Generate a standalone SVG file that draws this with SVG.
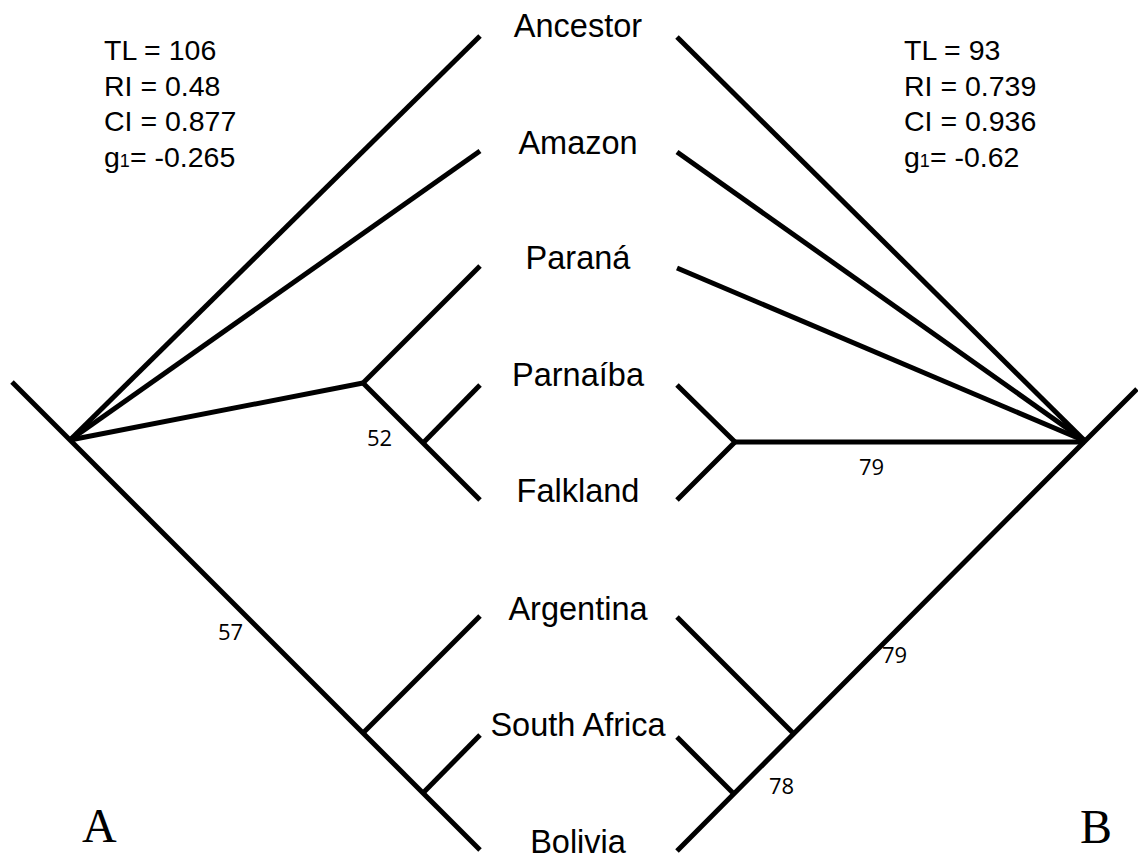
<svg xmlns="http://www.w3.org/2000/svg" width="1138" height="859" viewBox="0 0 1138 859">
<style>
.br{fill:none;stroke:#000;stroke-width:5;stroke-linecap:butt;stroke-linejoin:miter}
.lb{font-family:"Liberation Sans",Arial,sans-serif;font-size:32.5px;fill:#000;text-anchor:middle}
.st{font-family:"Liberation Sans",Arial,sans-serif;font-size:28.5px;fill:#000}
.sub{font-size:18px}
.sp{font-family:"Open Sans","DejaVu Sans",sans-serif;font-size:22px;fill:#000}
.ab{font-family:"Liberation Serif","Times New Roman",serif;font-size:48px;fill:#000}
</style>
<rect width="1138" height="859" fill="#fff"/>
<g id="connectors">
  <!-- tree A -->
  <polyline class="br" points="12,382 70,440 480,850"/>
  <line class="br" x1="70" y1="440" x2="480" y2="36"/>
  <line class="br" x1="70" y1="440" x2="480" y2="151"/>
  <line class="br" x1="70" y1="440" x2="363" y2="383"/>
  <line class="br" x1="363" y1="383" x2="480" y2="266"/>
  <line class="br" x1="363" y1="383" x2="480" y2="500"/>
  <line class="br" x1="423" y1="443" x2="480" y2="385"/>
  <line class="br" x1="363" y1="733" x2="480" y2="616"/>
  <line class="br" x1="423" y1="793" x2="480" y2="735"/>
  <!-- tree B -->
  <polyline class="br" points="1137,389 1085,441 677,851"/>
  <line class="br" x1="1085" y1="441" x2="677" y2="37"/>
  <line class="br" x1="1085" y1="441" x2="677" y2="152"/>
  <line class="br" x1="1085" y1="441" x2="677" y2="268"/>
  <line class="br" x1="1085" y1="442" x2="735" y2="442"/>
  <polyline class="br" points="677,385 735,442 677,500"/>
  <line class="br" x1="793" y1="733" x2="677" y2="617"/>
  <line class="br" x1="733" y1="793" x2="677" y2="737"/>
</g>
<g id="n-ancestor"><text class="lb" x="578" y="37">Ancestor</text></g>
<g id="n-amazon"><text class="lb" x="578" y="154">Amazon</text></g>
<g id="n-parana"><text class="lb" x="578" y="269">Paraná</text></g>
<g id="n-parnaiba"><text class="lb" x="578" y="386">Parnaíba</text></g>
<g id="n-falkland"><text class="lb" x="578" y="502">Falkland</text></g>
<g id="n-argentina"><text class="lb" x="578" y="620">Argentina</text></g>
<g id="n-southafrica"><text class="lb" x="578" y="736">South Africa</text></g>
<g id="n-bolivia"><text class="lb" x="578" y="853">Bolivia</text></g>
<g id="stats-a">
  <text class="st" x="104" y="60">TL = 106</text>
  <text class="st" x="104" y="96">RI = 0.48</text>
  <text class="st" x="104" y="131">CI = 0.877</text>
  <text class="st" x="104" y="167">g<tspan class="sub">1</tspan>= -0.265</text>
</g>
<g id="stats-b">
  <text class="st" x="904" y="60">TL = 93</text>
  <text class="st" x="904" y="96">RI = 0.739</text>
  <text class="st" x="904" y="131">CI = 0.936</text>
  <text class="st" x="904" y="167">g<tspan class="sub">1</tspan>= -0.62</text>
</g>
<g id="support">
  <text class="sp" x="367" y="446">52</text>
  <text class="sp" x="218" y="640">57</text>
  <text class="sp" x="859" y="475">79</text>
  <text class="sp" x="882" y="663">79</text>
  <text class="sp" x="769" y="794">78</text>
</g>
<g id="panel-labels">
  <text class="ab" x="82" y="842">A</text>
  <text class="ab" x="1080" y="843">B</text>
</g>
</svg>
